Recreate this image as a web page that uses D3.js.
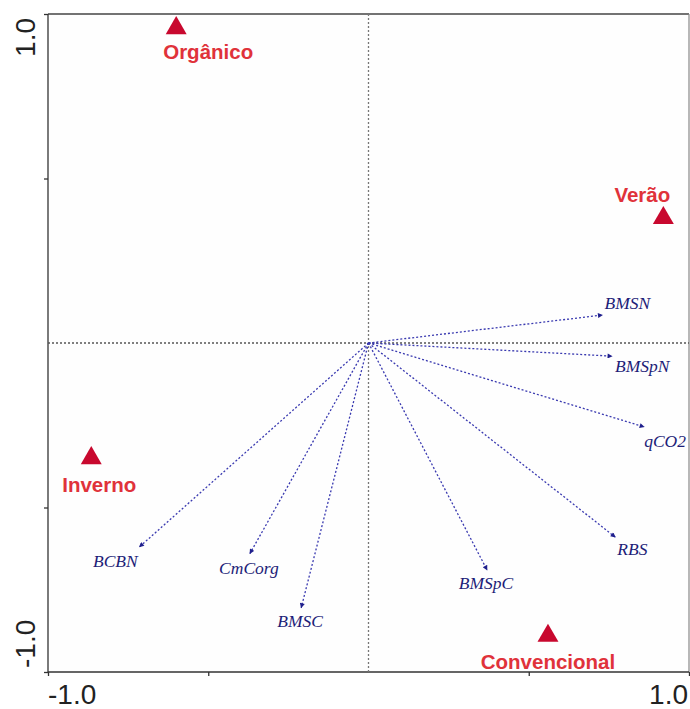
<!DOCTYPE html>
<html><head><meta charset="utf-8">
<script src="https://cdn.jsdelivr.net/npm/d3@7"></script>
<style>body{margin:0;background:#fff}svg{display:block}</style>
</head><body>
<svg id="c" width="690" height="709"></svg>
<script>
// ---- data ----
const groupNames = ["Orgânico", "Verão", "Inverno", "Convencional"];
const groupX = [-0.60, 0.92, -0.865, 0.56];
const groupY = [0.957, 0.38, -0.35, -0.89];

const varNames = ["BMSN", "BMSpN", "qCO2", "RBS", "BMSpC", "BMSC", "CmCorg", "BCBN"];
const varX = [0.73, 0.76, 0.86, 0.77, 0.37, -0.21, -0.37, -0.715];
const varY = [0.085, -0.04, -0.255, -0.59, -0.69, -0.805, -0.64, -0.62];

const tickValues = [-1, -0.5, 0.5, 1];
const tickLabels = ["-1.0", "1.0"];

// ---- layout ----
const svg = d3.select("#c");
const x = d3.scaleLinear().domain([-1, 1]).range([48, 689]);
const y = d3.scaleLinear().domain([-1, 1]).range([672, 14]);

// label offsets (layout only)
const groupLabelPos = {
  "Orgânico": [32, 31, "middle"],
  "Verão": [-21, -16, "middle"],
  "Inverno": [8, 34, "middle"],
  "Convencional": [0, 33, "middle"]
};
const varLabelPos = {
  "BMSN": [2, -6, "start"],
  "BMSpN": [3, 16, "start"],
  "qCO2": [0, 20, "start"],
  "RBS": [2, 18, "start"],
  "BMSpC": [-1, 19, "middle"],
  "BMSC": [-1, 19, "middle"],
  "CmCorg": [-1, 20, "middle"],
  "BCBN": [-24, 20, "middle"]
};

// frame
svg.append("rect").attr("x", x(-1)).attr("y", y(1))
  .attr("width", x(1) - x(-1)).attr("height", y(-1) - y(1))
  .attr("fill", "#fefefe").attr("stroke", "none");
svg.append("line").attr("x1", x(-1)).attr("x2", x(1)).attr("y1", y(1)).attr("y2", y(1)).attr("stroke", "#444").attr("stroke-width", 1.3);
svg.append("line").attr("x1", x(1)).attr("x2", x(1)).attr("y1", y(1)).attr("y2", y(-1)).attr("stroke", "#888").attr("stroke-width", 1.2);

// axes
const xAxis = d3.axisBottom(x).tickValues(tickValues).tickSize(4).tickFormat("");
const yAxis = d3.axisLeft(y).tickValues(tickValues).tickSize(4).tickFormat("");
svg.append("g").attr("transform", `translate(0,${y(-1)})`).call(xAxis)
  .call(g => g.selectAll("path,line").attr("stroke", "#333").attr("stroke-width", 1.3))
  .call(g => g.select(".domain").attr("d", `M${x(-1)},0H${x(1)}`));
svg.append("g").attr("transform", `translate(${x(-1)},0)`).call(yAxis)
  .call(g => g.selectAll("path,line").attr("stroke", "#333").attr("stroke-width", 1.3))
  .call(g => g.select(".domain").attr("d", `M0,${y(1)}V${y(-1)}`));

// tick labels
const tf = "Liberation Sans, Arial, sans-serif";
svg.append("text").attr("x", x(-1)).attr("y", 704).attr("text-anchor", "start")
  .attr("font-family", tf).attr("font-size", 28).attr("fill", "#222").text(tickLabels[0]);
svg.append("text").attr("x", x(1) - 1).attr("y", 704).attr("text-anchor", "end")
  .attr("font-family", tf).attr("font-size", 28).attr("fill", "#222").text(tickLabels[1]);
svg.append("text").attr("transform", `translate(35,${y(1) + 4}) rotate(-90)`).attr("text-anchor", "end")
  .attr("font-family", tf).attr("font-size", 28).attr("fill", "#222").text(tickLabels[1]);
svg.append("text").attr("transform", `translate(35,${y(-1) - 4}) rotate(-90)`).attr("text-anchor", "start")
  .attr("font-family", tf).attr("font-size", 28).attr("fill", "#222").text(tickLabels[0]);

// reference lines
svg.append("line").attr("x1", x(-1)).attr("x2", x(1)).attr("y1", y(0)).attr("y2", y(0))
  .attr("stroke", "#555").attr("stroke-width", 1.3).attr("stroke-dasharray", "2,2");
svg.append("line").attr("x1", x(0)).attr("x2", x(0)).attr("y1", y(1)).attr("y2", y(-1))
  .attr("stroke", "#777").attr("stroke-width", 1.3).attr("stroke-dasharray", "2,2");

// arrow marker
svg.append("defs").append("marker").attr("id", "ah")
  .attr("viewBox", "0 0 10 10").attr("refX", 9).attr("refY", 5)
  .attr("markerWidth", 7).attr("markerHeight", 5).attr("markerUnits", "userSpaceOnUse")
  .attr("orient", "auto")
  .append("path").attr("d", "M0,0L10,5L0,10Z").attr("fill", "#1f1f8c");

const vars = varNames.map((n, i) => ({ name: n, x: varX[i], y: varY[i] }));
svg.append("g").selectAll("line").data(vars).join("line")
  .attr("x1", x(0)).attr("y1", y(0))
  .attr("x2", d => x(d.x)).attr("y2", d => y(d.y))
  .attr("stroke", "#3a3ab0").attr("stroke-width", 1.3)
  .attr("stroke-dasharray", "2,2")
  .attr("marker-end", "url(#ah)");
svg.append("g").selectAll("text").data(vars).join("text")
  .attr("x", d => x(d.x) + varLabelPos[d.name][0])
  .attr("y", d => y(d.y) + varLabelPos[d.name][1])
  .attr("text-anchor", d => varLabelPos[d.name][2])
  .attr("font-family", "Liberation Serif, Times New Roman, serif")
  .attr("font-style", "italic").attr("font-size", 17.5).attr("fill", "#1d1d78")
  .text(d => d.name);

// groups
const groups = groupNames.map((n, i) => ({ name: n, x: groupX[i], y: groupY[i] }));
const tri = d3.symbol().type(d3.symbolTriangle).size(190);
svg.append("g").selectAll("path").data(groups).join("path")
  .attr("transform", d => `translate(${x(d.x)},${y(d.y)})`)
  .attr("d", tri).attr("fill", "#c8082e");
svg.append("g").selectAll("text").data(groups).join("text")
  .attr("x", d => x(d.x) + groupLabelPos[d.name][0])
  .attr("y", d => y(d.y) + groupLabelPos[d.name][1])
  .attr("text-anchor", d => groupLabelPos[d.name][2])
  .attr("font-family", tf).attr("font-weight", "bold")
  .attr("font-size", 20.5).attr("fill", "#e0323a")
  .text(d => d.name);
</script>
</body></html>
